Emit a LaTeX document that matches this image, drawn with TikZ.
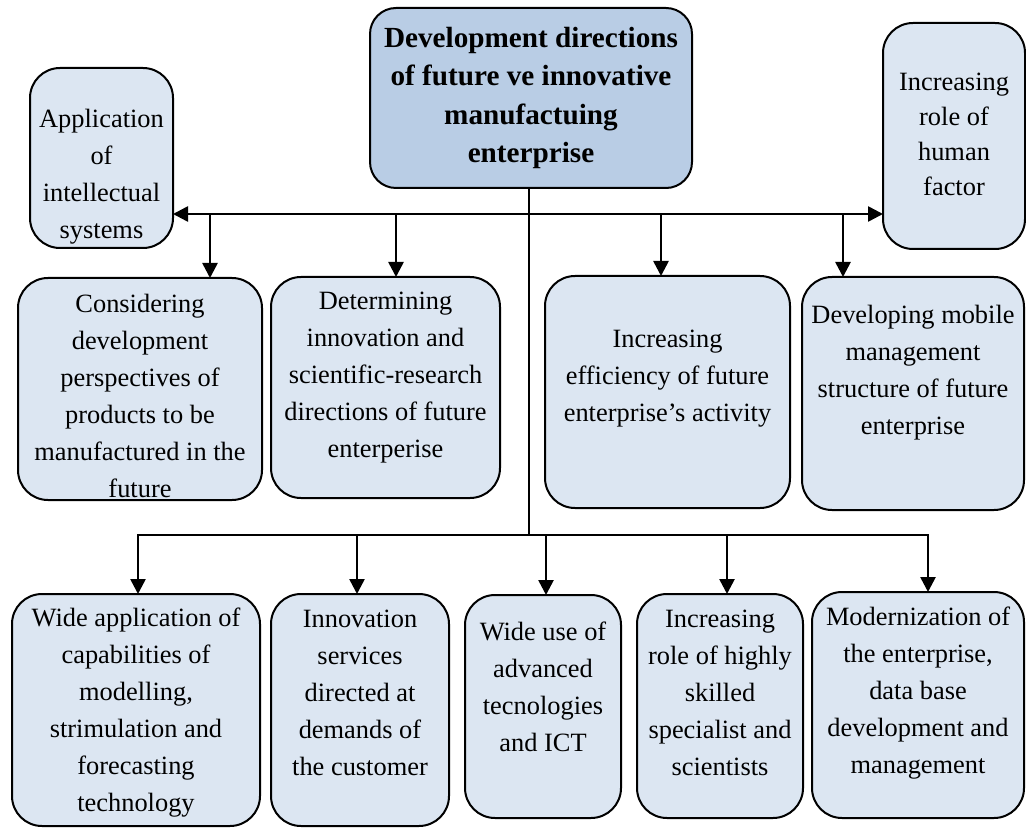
\documentclass[tikz,border=0pt]{standalone}
\usepackage{fontspec}
\setmainfont{Liberation Serif}
\usetikzlibrary{arrows.meta}
\definecolor{boxfill}{RGB}{220,230,242}
\definecolor{headfill}{RGB}{185,205,229}
\tikzset{
  card/.style={draw=black, line width=1pt, fill=boxfill, rounded corners=15pt,
    inner sep=0pt, outer sep=0pt},
  head/.style={card, fill=headfill, rounded corners=13pt},
  cardtext/.style={align=center, inner sep=0pt, font=\fontsize{13.2}{18.5}\selectfont},
  headtext/.style={align=center, inner sep=0pt, font=\fontsize{14.6}{19.2}\selectfont\bfseries},
  link/.style={line width=1.3pt},
  arrow/.style={link, -{Triangle[width=7.5pt,length=7.5pt]}},
  twoway/.style={link, {Triangle[width=7.5pt,length=7.5pt]}-{Triangle[width=7.5pt,length=7.5pt]}},
}
\begin{document}
\begin{tikzpicture}[x=0.5pt, y=-0.5pt]
\useasboundingbox (0,0) rectangle (1026,828);

% central box
\node[head, minimum width=161pt, minimum height=90pt] (top) at (531,98) {};
\node[headtext] (top-t) at (531,98) {Development directions\\of future ve innovative\\manufactuing\\enterprise};

% side boxes on the upper bus
\node[card, minimum width=71.5pt, minimum height=90pt] (app) at (101.5,158) {};
\node[cardtext] (app-t) at (101.5,177) {Application\\of\\intellectual\\systems};
\node[card, minimum width=71pt, minimum height=113pt] (human) at (954,136) {};
\node[cardtext, font=\fontsize{13.2}{17.5}\selectfont] (human-t) at (954,134) {Increasing\\role of\\human\\factor};

% middle row
\node[card, minimum width=122pt, minimum height=111pt] (cons) at (140,389) {};
\node[cardtext] (cons-t) at (140,396) {Considering\\development\\perspectives of\\products to be\\manufactured in the\\future};
\node[card, minimum width=114.5pt, minimum height=110.5pt] (det) at (385.5,387.5) {};
\node[cardtext] (det-t) at (385.5,378) {Determining\\innovation and\\scientific-research\\directions of future\\enterperise};
\node[card, minimum width=122.5pt, minimum height=116pt] (eff) at (667.5,392) {};
\node[cardtext] (eff-t) at (667.5,379) {Increasing\\efficiency of future\\enterprise’s activity};
\node[card, minimum width=111pt, minimum height=116.5pt] (mob) at (913,393.5) {};
\node[cardtext] (mob-t) at (913,373) {Developing mobile\\management\\structure of future\\enterprise};

% bottom row
\node[card, minimum width=124pt, minimum height=116pt] (wide) at (136,710) {};
\node[cardtext] (wide-t) at (136,713) {Wide application of\\capabilities of\\modelling,\\strimulation and\\forecasting\\technology};
\node[card, minimum width=89pt, minimum height=116pt] (innov) at (360,710) {};
\node[cardtext] (innov-t) at (360,693) {Innovation\\services\\directed at\\demands of\\the customer};
\node[card, minimum width=78pt, minimum height=111.5pt] (ict) at (543,706.5) {};
\node[cardtext] (ict-t) at (543,687) {Wide use of\\advanced\\tecnologies\\and ICT};
\node[card, minimum width=83pt, minimum height=112pt] (role) at (720,706) {};
\node[cardtext] (role-t) at (720,693) {Increasing\\role of highly\\skilled\\specialist and\\scientists};
\node[card, minimum width=106pt, minimum height=113pt] (modern) at (918,705) {};
\node[cardtext] (modern-t) at (918,693) {Modernization of\\the enterprise,\\data base\\development and\\management};

% bus junctions
\coordinate (tbus) at (529,214);
\coordinate (bbus) at (529,535);
\coordinate (d1) at (210,214);
\coordinate (d2) at (396,214);
\coordinate (d3) at (661,214);
\coordinate (d4) at (843,214);
\coordinate (b1) at (138,535);
\coordinate (b2) at (357,535);
\coordinate (b3) at (546,535);
\coordinate (b4) at (727,535);
\coordinate (b5) at (928,535);

% trunk and upper bus
\draw[link] (top.south -| bbus) -- (bbus);
\draw[twoway] (app.east |- tbus) -- (human.west |- tbus);
\draw[arrow] (d1) -- (cons.north -| d1);
\draw[arrow] (d2) -- (det.north -| d2);
\draw[arrow] (d3) -- (eff.north -| d3);
\draw[arrow] (d4) -- (mob.north -| d4);

% lower bus
\draw[arrow] (bbus) -| (wide.north -| b1);
\draw[arrow] (bbus) -| (modern.north -| b5);
\draw[arrow] (b2) -- (innov.north -| b2);
\draw[arrow] (b3) -- (ict.north -| b3);
\draw[arrow] (b4) -- (role.north -| b4);
\end{tikzpicture}
\end{document}
